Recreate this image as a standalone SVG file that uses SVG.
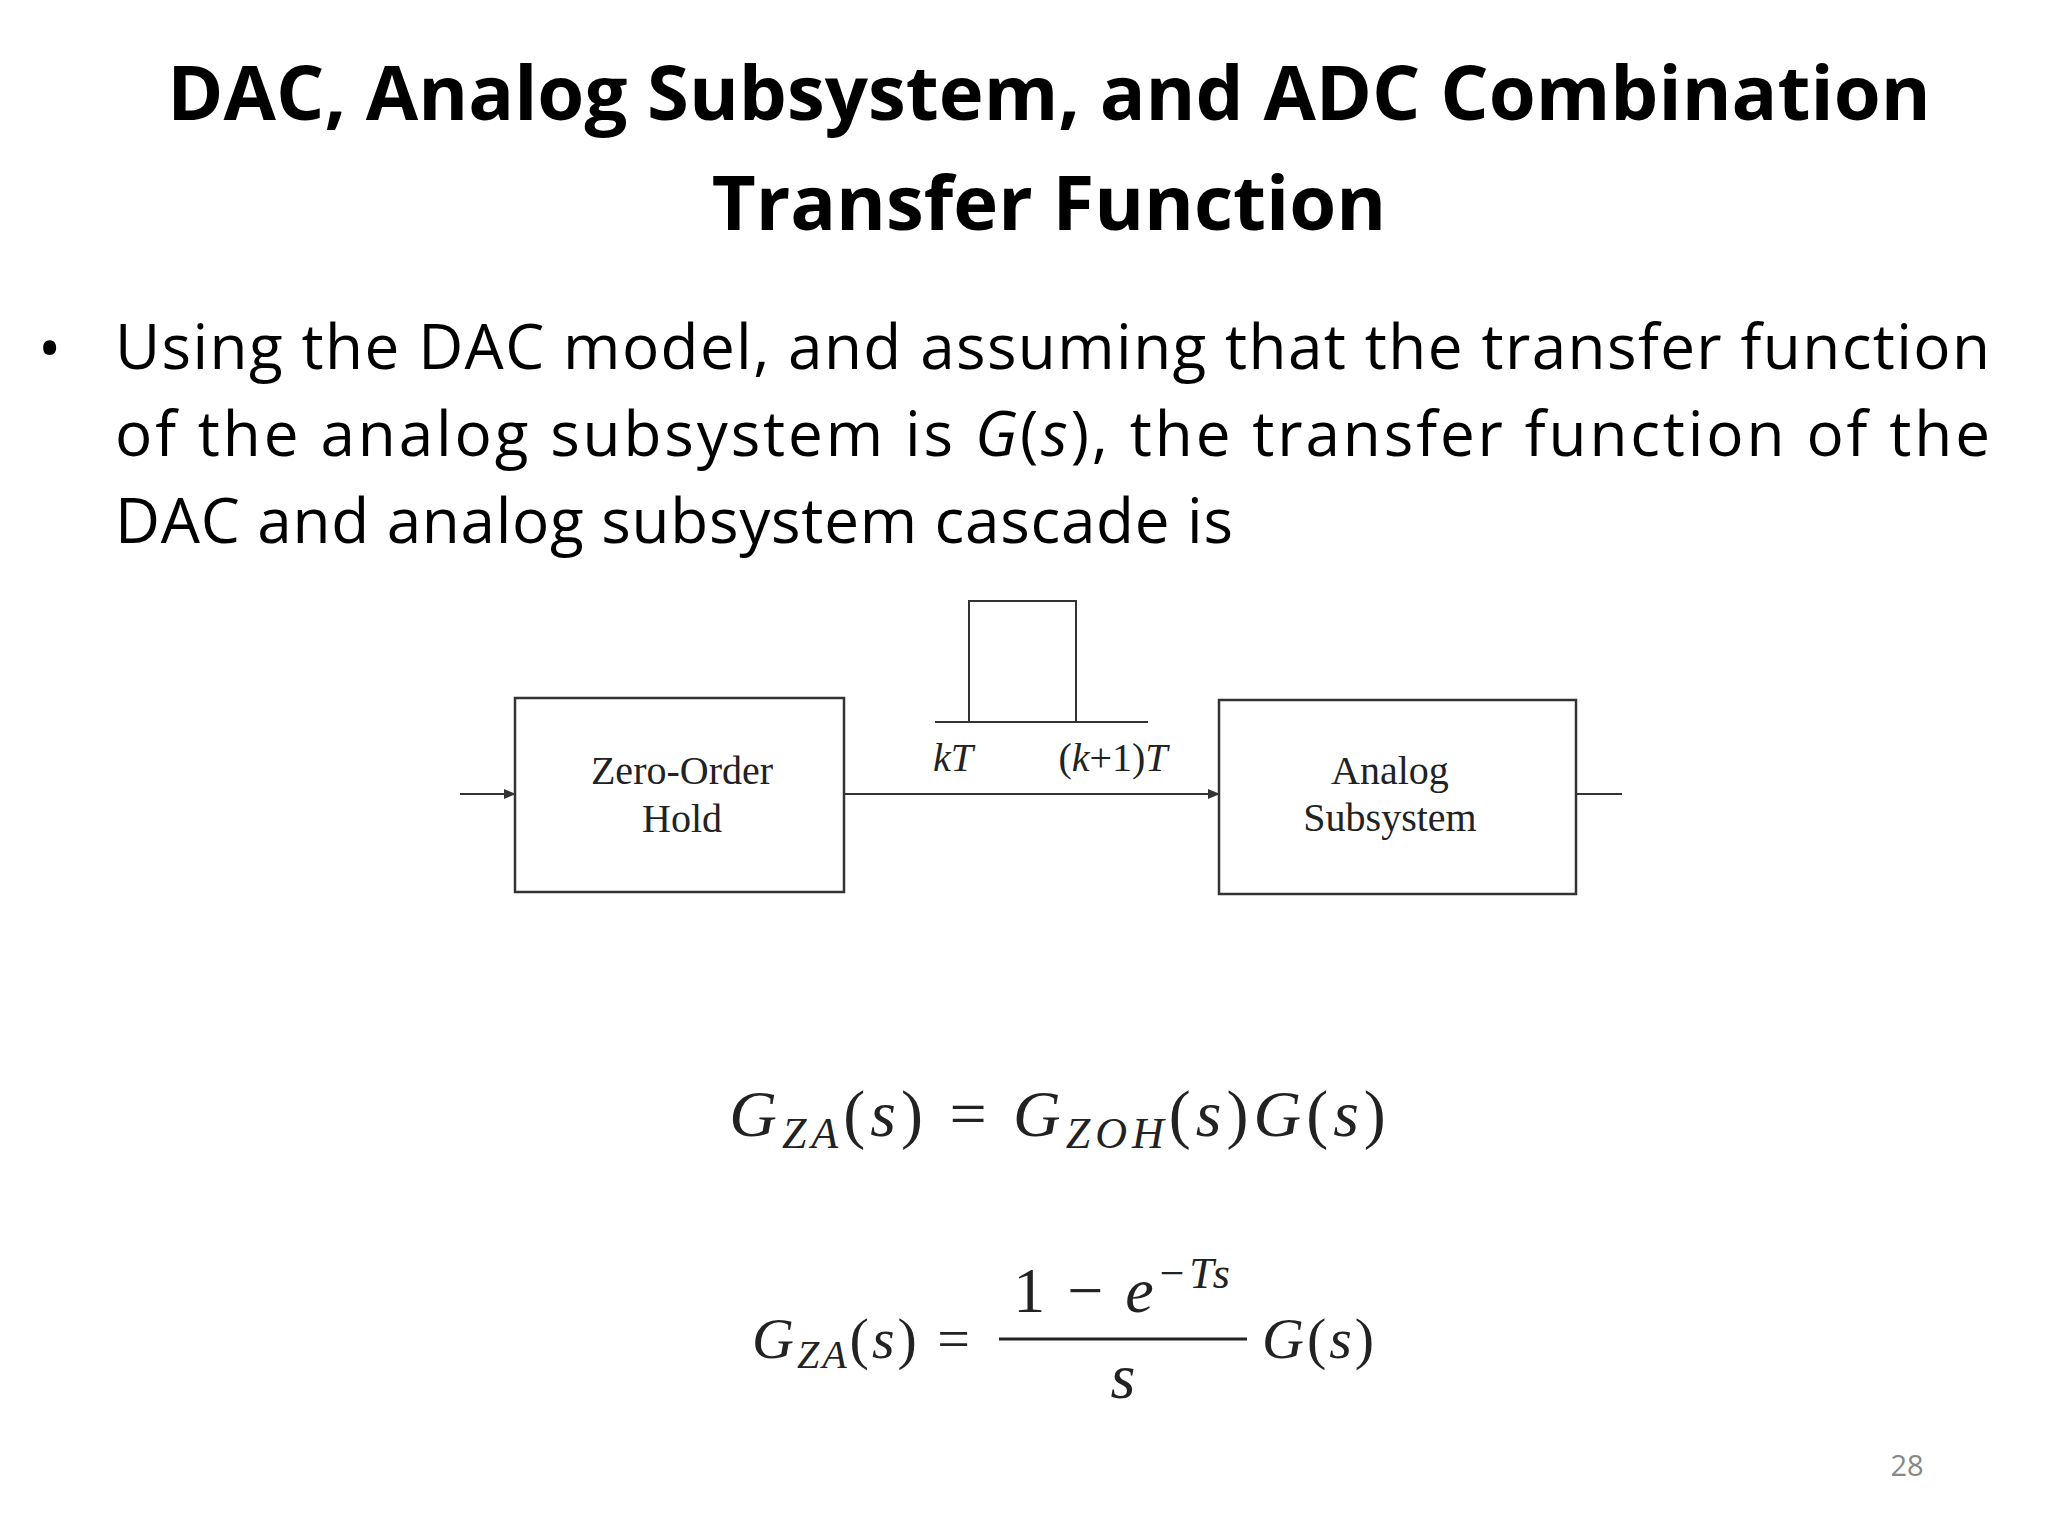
<svg xmlns="http://www.w3.org/2000/svg" width="2048" height="1536" viewBox="0 0 2048 1536">
<style>
.t{font-family:"Open Sans","Liberation Sans",sans-serif;fill:#000}
.s{font-family:"Liberation Serif",serif;font-size:40px;fill:#222}
.m{font-family:"Liberation Serif",serif;font-style:italic;fill:#222}
.box{fill:none;stroke:#333;stroke-width:2.5}
.ln{stroke:#333;stroke-width:2;fill:none}
</style>
<defs><marker id="a" markerWidth="12" markerHeight="10" refX="11" refY="5" orient="auto" markerUnits="userSpaceOnUse"><path d="M0,0 L12,5 L0,10 Z" fill="#333"/></marker></defs>
<rect width="2048" height="1536" fill="#fff"/>
<text class="t" x="1049" y="120" font-size="76" font-weight="bold" text-anchor="middle">DAC, Analog Subsystem, and ADC Combination</text>
<text class="t" x="1049" y="230" font-size="76" font-weight="bold" text-anchor="middle">Transfer Function</text>
<text class="t" x="38" y="370" font-size="62">•</text>
<text class="t" x="115" y="369" font-size="62" textLength="1875" lengthAdjust="spacing">Using the DAC model, and assuming that the transfer function</text>
<text class="t" x="115" y="456" font-size="62" textLength="1875" lengthAdjust="spacing">of the analog subsystem is <tspan font-style="italic">G</tspan>(<tspan font-style="italic">s</tspan>), the transfer function of the</text>
<text class="t" x="115" y="543" font-size="62" textLength="1118" lengthAdjust="spacing">DAC and analog subsystem cascade is</text>
<g id="connectors">
<line class="ln" x1="460" y1="794" x2="515" y2="794" marker-end="url(#a)"/>
<line class="ln" x1="844" y1="794" x2="1219" y2="794" marker-end="url(#a)"/>
<line class="ln" x1="1576" y1="794" x2="1622" y2="794"/>
</g>
<g id="zoh"><rect class="box" x="515" y="698" width="329" height="194"/>
<text class="s" x="682" y="784" text-anchor="middle">Zero-Order</text><text class="s" x="682" y="832" text-anchor="middle">Hold</text></g>
<g id="analog"><rect class="box" x="1219" y="700" width="357" height="194"/>
<text class="s" x="1390" y="784" text-anchor="middle">Analog</text><text class="s" x="1390" y="831" text-anchor="middle">Subsystem</text></g>
<g id="pulse"><line class="ln" x1="935" y1="722" x2="1148" y2="722"/>
<path class="ln" d="M969,722 V601 H1076 V722"/>
<text class="m" x="953" y="771" font-size="40" text-anchor="middle">kT</text>
<text class="s" x="1113" y="771" text-anchor="middle">(<tspan font-style="italic">k</tspan>+1)<tspan font-style="italic">T</tspan></text></g>
<text class="m" x="1060" y="1136" font-size="66" letter-spacing="5" text-anchor="middle">G<tspan font-size="44" dy="12">ZA</tspan><tspan dy="-12" font-style="normal">(</tspan>s<tspan font-style="normal">) = </tspan>G<tspan font-size="44" dy="12">ZOH</tspan><tspan dy="-12" font-style="normal">(</tspan>s<tspan font-style="normal">)</tspan>G<tspan font-style="normal">(</tspan>s<tspan font-style="normal">)</tspan></text>
<text class="m" x="752" y="1358" font-size="58" letter-spacing="3">G<tspan font-size="40" dy="10">ZA</tspan><tspan dy="-10" font-style="normal">(</tspan>s<tspan font-style="normal">) =</tspan></text>
<line x1="999" y1="1339" x2="1247" y2="1339" stroke="#222" stroke-width="3"/>
<text class="m" x="1123" y="1312" font-size="64" letter-spacing="3" text-anchor="middle"><tspan font-style="normal">1 − </tspan>e<tspan font-size="44" dy="-24">−Ts</tspan></text>
<text class="m" x="1123" y="1398" font-size="64" text-anchor="middle">s</text>
<text class="m" x="1262" y="1358" font-size="58" letter-spacing="3">G<tspan font-style="normal">(</tspan>s<tspan font-style="normal">)</tspan></text>
<text x="1907" y="1476" font-family="Open Sans,sans-serif" font-size="29" fill="#888" text-anchor="middle">28</text>
</svg>
